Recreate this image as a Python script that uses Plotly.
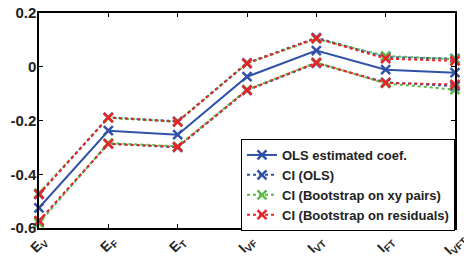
import plotly.graph_objects as go

categories = ["E<sub>V</sub>", "E<sub>F</sub>", "E<sub>T</sub>", "I<sub>VF</sub>", "I<sub>VT</sub>", "I<sub>FT</sub>", "I<sub>VFT</sub>"]
ols_coef = [-0.525, -0.238, -0.253, -0.037, 0.060, -0.011, -0.022]
ci_ols_upper = [-0.475, -0.188, -0.203, 0.014, 0.108, 0.036, 0.030]
ci_ols_lower = [-0.575, -0.286, -0.300, -0.088, 0.013, -0.058, -0.072]
ci_pairs_upper = [-0.470, -0.190, -0.204, 0.012, 0.104, 0.040, 0.028]
ci_pairs_lower = [-0.582, -0.284, -0.296, -0.085, 0.016, -0.062, -0.085]
ci_resid_upper = [-0.474, -0.189, -0.205, 0.013, 0.106, 0.030, 0.022]
ci_resid_lower = [-0.573, -0.287, -0.298, -0.087, 0.015, -0.060, -0.066]
y_ticks = [-0.6, -0.4, -0.2, 0, 0.2]
y_tick_labels = ["-0.6", "-0.4", "-0.2", "0", "0.2"]

BLUE = "#2f52a8"
GREEN = "#5dbb45"
RED = "#e8232b"
TEXT = "#222222"

xs = list(range(len(categories)))
fig = go.Figure()

def add(y, color, dash, name, show):
    fig.add_trace(go.Scatter(
        x=xs, y=y, mode="lines+markers", name="<b>%s</b>" % name, showlegend=show,
        legendgroup=name, cliponaxis=False,
        line=dict(color=color, width=2, dash=dash),
        marker=dict(symbol="x-thin", size=9, line=dict(color=color, width=2.5)),
    ))

add(ols_coef, BLUE, "solid", "OLS estimated coef.", True)
add(ci_ols_upper, BLUE, "dot", "CI (OLS)", True)
add(ci_ols_lower, BLUE, "dot", "CI (OLS)", False)
add(ci_pairs_upper, GREEN, "dot", "CI (Bootstrap on xy pairs)", True)
add(ci_pairs_lower, GREEN, "dot", "CI (Bootstrap on xy pairs)", False)
add(ci_resid_upper, RED, "dot", "CI (Bootstrap on residuals)", True)
add(ci_resid_lower, RED, "dot", "CI (Bootstrap on residuals)", False)

axis_common = dict(showline=True, linecolor="black", linewidth=1.5, mirror="ticks",
                   ticks="inside", ticklen=4, tickcolor="black", showgrid=False,
                   zeroline=False, automargin=False)

# rotated category labels under the x axis
for xi, cat in zip(xs, categories):
    fig.add_annotation(x=xi, xref="x", y=-0.079, yref="paper",
                       text="<b>%s</b>" % cat, showarrow=False, textangle=-45,
                       xanchor="center", yanchor="middle",
                       font=dict(size=14, color=TEXT))

fig.update_layout(
    width=464, height=259,
    margin=dict(l=39, r=9, t=13, b=31),
    plot_bgcolor="white", paper_bgcolor="white",
    font=dict(family="Arial, Liberation Sans", size=14, color=TEXT),
    xaxis=dict(range=[0, 6], tickvals=xs, showticklabels=False, **axis_common),
    yaxis=dict(range=[-0.6, 0.2], tickvals=y_ticks, ticktext=["<b>%s</b>" % t for t in y_tick_labels],
               tickfont=dict(size=15), ticklabelstandoff=-2, **axis_common),
    legend=dict(x=1, y=-0.014, xanchor="right", yanchor="bottom", bgcolor="white",
                bordercolor="black", borderwidth=1, font=dict(size=13),
                itemwidth=30, tracegroupgap=0),
)

fig.write_html("out.html", config={"displayModeBar": False},
               post_script="document.body.style.margin='0';")
